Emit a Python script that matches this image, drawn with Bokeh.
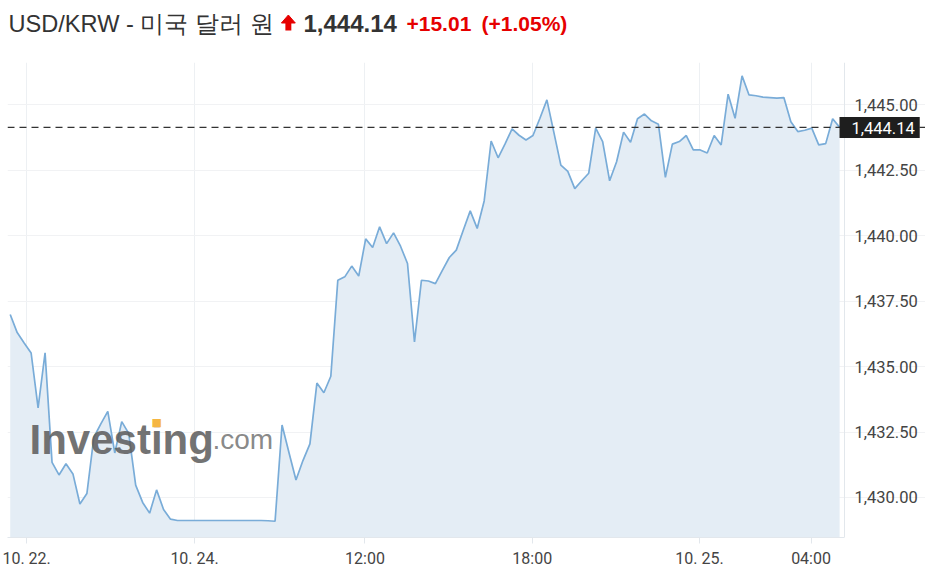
from bokeh.plotting import figure
from bokeh.layouts import column
from bokeh.models import (Range1d, FixedTicker, NumeralTickFormatter, Span, Label,
                          ColumnDataSource)
from bokeh.embed import file_html
from bokeh.resources import INLINE

# ---- data ----
title_name = "USD/KRW - 미국 달러 원"
price_text = "1,444.14"
change_text = "+15.01"
change_pct_text = "(+1.05%)"
last_price = 1444.14

values = [
    1436.99, 1436.30, 1435.90, 1435.52, 1433.42, 1435.53, 1431.34, 1430.86, 1431.29, 1430.90,
    1429.75, 1430.15, 1432.30, 1432.81, 1433.29, 1431.70, 1432.90, 1432.45, 1430.47, 1429.81,
    1429.40, 1430.29, 1429.54, 1429.17, 1429.12, 1429.12, 1429.12, 1429.12, 1429.12, 1429.12,
    1429.12, 1429.12, 1429.12, 1429.12, 1429.12, 1429.12, 1429.12, 1429.11, 1429.09, 1432.77,
    1431.71, 1430.67, 1431.41, 1432.05, 1434.37, 1434.00, 1434.63, 1438.30, 1438.43, 1438.84,
    1438.46, 1439.88, 1439.55, 1440.34, 1439.70, 1440.11, 1439.60, 1438.94, 1435.94, 1438.30,
    1438.27, 1438.17, 1438.68, 1439.17, 1439.45, 1440.21, 1440.95, 1440.28, 1441.33, 1443.62,
    1442.98, 1443.51, 1444.08, 1443.84, 1443.66, 1443.83, 1444.49, 1445.19, 1443.95, 1442.70,
    1442.46, 1441.80, 1442.10, 1442.39, 1444.11, 1443.60, 1442.10, 1442.83, 1443.96, 1443.57,
    1444.47, 1444.65, 1444.39, 1444.26, 1442.23, 1443.50, 1443.60, 1443.83, 1443.28, 1443.28,
    1443.16, 1443.83, 1443.47, 1445.41, 1444.49, 1446.11, 1445.38, 1445.35, 1445.30, 1445.28,
    1445.26, 1445.28, 1444.36, 1443.98, 1444.03, 1444.11, 1443.47, 1443.52, 1444.47, 1444.14,
]
index = list(range(len(values)))

x_tick_pos = [2.35, 26.45, 50.9, 74.9, 98.9, 114.9]
x_tick_labels = ["10. 22.", "10. 24.", "12:00", "18:00", "10. 25.", "04:00"]
y_ticks = [1430.0, 1432.5, 1435.0, 1437.5, 1440.0, 1442.5, 1445.0]

x_start, x_axis_end, x_view_end = -0.39, 119.7, 131.32
y_lo, y_hi = 1428.47, 1446.62

# ---- layout sizes ----
BL, FW, FH, BB = 7, 918, 475, 31
TOTAL_W = BL + FW
HEAD_H = 61

# ---- header figure ----
h = figure(width=TOTAL_W, height=HEAD_H, x_range=Range1d(0, TOTAL_W),
           y_range=Range1d(0, HEAD_H), output_backend="svg", toolbar_location=None,
           min_border=0, x_axis_type=None, y_axis_type=None)
h.outline_line_color = None
h.grid.visible = False
ty = HEAD_H - 23
header = [
    (1, title_name, "normal", "23.6px", "#333333", "Liberation Sans"),
    (296, price_text, "bold", "24px", "#333333", "Liberation Sans"),
    (399, change_text, "bold", "21px", "#e60000", "Liberation Sans"),
    (474, change_pct_text, "bold", "21px", "#e60000", "Liberation Sans"),
]
for hx, txt, style, size, col, font in header:
    h.add_layout(Label(x=hx, y=ty, x_units="screen", y_units="screen", text=txt,
                       text_font=font, text_font_style=style, text_font_size=size,
                       text_color=col, text_baseline="middle"))
# up-arrow icon (head + stem)
h.patch(x=[276, 290, 283], y=[38.5, 38.5, 46.5], fill_color="#e60000", line_color="#e60000")
h.quad(left=280, right=286, bottom=31, top=39, fill_color="#e60000", line_color=None)

# ---- main figure ----
p = figure(frame_width=FW, frame_height=FH,
           x_range=Range1d(x_start, x_view_end), y_range=Range1d(y_lo, y_hi),
           y_axis_location="right", output_backend="svg", toolbar_location=None,
           min_border_left=BL, min_border_top=1, min_border_right=0, min_border_bottom=BB,
           background_fill_color="white", border_fill_color="white")
p.outline_line_color = None

src = ColumnDataSource(dict(x=index, y=values))
p.varea(x="x", y1=y_lo, y2="y", source=src, fill_color="#e4edf5")
p.line(x="x", y="y", source=src, line_color="#79acd8", line_width=1.7)

p.add_layout(Span(location=last_price, dimension="width", line_color="#333333",
                  line_dash="7 5", line_width=1.2))
# right edge of the price area (axis line)
p.add_layout(Span(location=x_axis_end, dimension="height", line_color="#e2e7ec",
                  line_width=1))

xa = p.xaxis[0]
xa.bounds = (x_start, x_axis_end)
xa.ticker = FixedTicker(ticks=x_tick_pos)
xa.major_label_overrides = {t: l for t, l in zip(x_tick_pos, x_tick_labels)}
xa.axis_line_color = "#e2e7ec"
xa.major_tick_line_color = "#e2e7ec"
xa.major_tick_out = 6
xa.major_tick_in = 0
xa.minor_tick_line_color = None
xa.major_label_standoff = 5
xa.major_label_text_font = "Roboto"
xa.major_label_text_font_size = "16px"
xa.major_label_text_color = "#444444"

ya = p.yaxis[0]
ya.ticker = FixedTicker(ticks=y_ticks)
ya.formatter = NumeralTickFormatter(format="0,0.00")
ya.axis_line_color = None
ya.major_tick_line_color = None
ya.major_tick_out = 0
ya.major_tick_in = 0
ya.minor_tick_line_color = None
ya.major_label_standoff = -71
ya.major_label_text_font = "Roboto"
ya.major_label_text_font_size = "16.5px"
ya.major_label_text_color = "#444444"

p.xgrid.ticker = FixedTicker(ticks=x_tick_pos)
p.xgrid.grid_line_color = "#edf0f3"
p.ygrid.grid_line_color = "#f1f2f4"

# watermark
p.add_layout(Label(x=22, y=98, x_units="screen", y_units="screen", text="Investing",
                   text_font="Liberation Sans", text_font_style="bold",
                   text_font_size="42px", text_color="#5a5a5a", text_alpha=0.85,
                   text_baseline="alphabetic"))
p.add_layout(Label(x=144, y=115, x_units="screen", y_units="screen", text="■",
                   text_font="DejaVu Sans", text_font_size="11px",
                   text_color="#f5b642", text_baseline="middle"))
p.add_layout(Label(x=205, y=98, x_units="screen", y_units="screen", text=".com",
                   text_font="Liberation Sans", text_font_size="28px",
                   text_color="#7a7a7a", text_alpha=0.9, text_baseline="alphabetic"))

# price tag on the price scale
p.add_layout(Label(x=832, y=last_price, x_units="screen", y_units="data",
                   text=price_text, text_font="Roboto", text_font_size="16.5px",
                   text_color="white", text_baseline="middle",
                   background_fill_color="#1e1e1e",
                   padding=dict(left=12, right=5, top=5, bottom=4)))

open("out.html", "w").write(file_html(column(h, p, spacing=0), INLINE))
